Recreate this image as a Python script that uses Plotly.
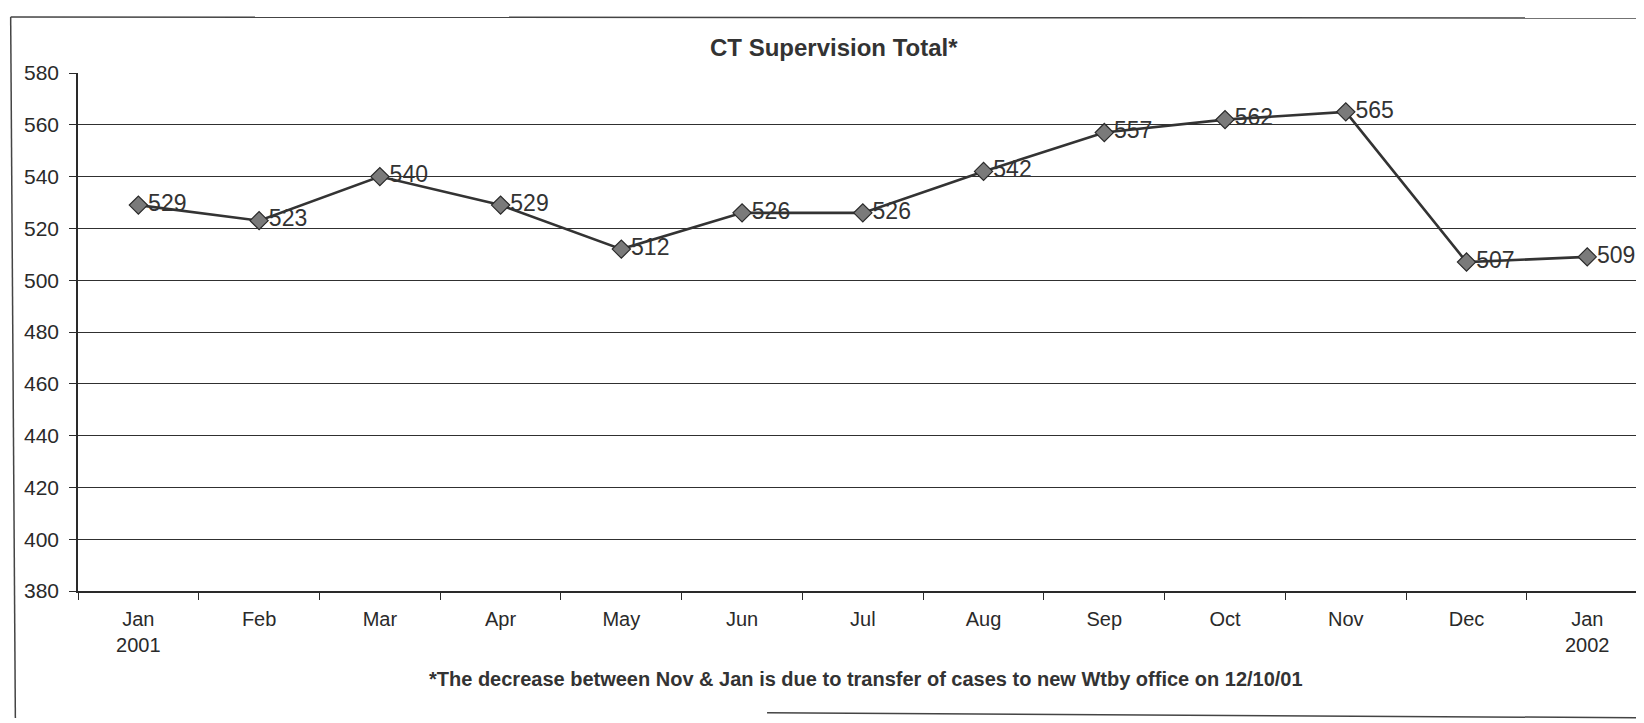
import plotly.graph_objects as go

months = ["Jan<br>2001", "Feb", "Mar", "Apr", "May", "Jun", "Jul",
          "Aug", "Sep", "Oct", "Nov", "Dec", "Jan<br>2002"]
totals = [529, 523, 540, 529, 512, 526, 526, 542, 557, 562, 565, 507, 509]
y_ticks = [380, 400, 420, 440, 460, 480, 500, 520, 540, 560, 580]

title_text = "CT Supervision Total*"
footnote = "*The decrease between Nov & Jan is due to transfer of cases to new Wtby office on 12/10/01"

FONT = "Liberation Sans, Arial, sans-serif"
INK = "#2a2a2a"

fig = go.Figure()
fig.add_trace(go.Scatter(
    x=months, y=totals,
    mode="lines+markers+text",
    text=[str(v) for v in totals],
    textposition="middle right",
    textfont=dict(family=FONT, size=23, color="#333333"),
    line=dict(color="#333333", width=2.6),
    marker=dict(symbol="diamond", size=14, color="#7a7a7a",
                line=dict(color="#2a2a2a", width=1.2)),
    cliponaxis=False,
    showlegend=False,
))

fig.update_layout(
    width=1644, height=723,
    margin=dict(l=70, r=8, t=65, b=140),
    paper_bgcolor="white", plot_bgcolor="white",
    font=dict(family=FONT, color=INK),
    xaxis=dict(
        type="category",
        range=[-0.5, 12.47],
        tickson="boundaries",
        showgrid=False, zeroline=False,
        showline=True, linecolor=INK, linewidth=1.5,
        ticks="outside", ticklen=7, tickcolor=INK,
        tickfont=dict(size=20, color=INK),
        ticklabelstandoff=9,
        automargin=False,
    ),
    yaxis=dict(
        range=[380, 580],
        tickmode="array", tickvals=y_ticks,
        showgrid=True, gridcolor="#303030", gridwidth=1,
        zeroline=False,
        showline=True, linecolor=INK, linewidth=1.5,
        ticks="outside", ticklen=7, tickcolor=INK,
        tickfont=dict(size=21, color=INK),
        ticklabelstandoff=6,
        automargin=False,
    ),
    annotations=[
        dict(text="<b>" + title_text + "</b>", xref="paper", yref="paper",
             x=0.483, y=1.05, showarrow=False, xanchor="center", yanchor="middle",
             font=dict(size=24, color="#333333")),
        dict(text="<b>" + footnote + "</b>", xref="paper", yref="paper",
             x=0.503, y=-0.17, showarrow=False, xanchor="center", yanchor="middle",
             font=dict(size=20, color="#333333")),
    ],
    shapes=[
        dict(type="line", xref="paper", yref="y", x0=0.002, x1=1.0, y0=580, y1=580,
             line=dict(color="white", width=3), layer="above"),
        dict(type="line", xref="paper", yref="paper", x0=-0.043, x1=1.01, y0=1.108, y1=1.106,
             line=dict(color="#444444", width=1.5)),
        dict(type="line", xref="paper", yref="paper", x0=-0.043, x1=-0.040, y0=1.108, y1=-0.245,
             line=dict(color="#444444", width=1.5)),
        dict(type="line", xref="paper", yref="paper", x0=0.44, x1=1.01, y0=-0.235, y1=-0.245,
             line=dict(color="#444444", width=1.5)),
    ],
)

fig.write_html("out.html")
